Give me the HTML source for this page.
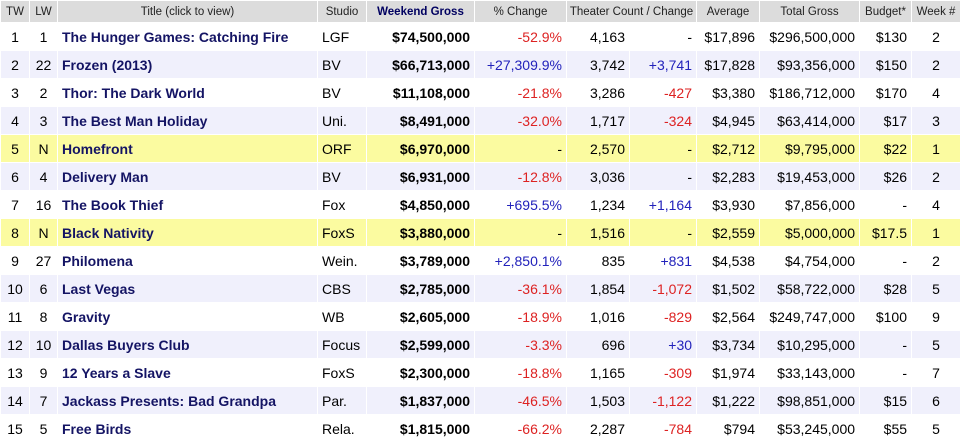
<!DOCTYPE html>
<html><head><meta charset="utf-8"><style>
body{margin:0;background:#fff;width:960px;height:442px;overflow:hidden;font-family:"Liberation Sans",Tahoma,sans-serif}
table{border-collapse:collapse;table-layout:fixed;width:960px}
td{border:1px solid #fff;padding:0 4px;white-space:nowrap;overflow:hidden;font-size:14px;color:#000;height:28px;box-sizing:border-box}
tr.h td{background:#dcdcdc;height:22px;font-size:11.5px;text-align:center;color:#222;padding:0 2px}
tr.h td.wg{font-weight:bold;color:#000060}
tr.a td{background:#fff}
tr.b td{background:#f0f0fc}
tr.y td{background:#fbfba0}
.c{text-align:center}.r{text-align:right}
.t{font-weight:bold;color:#141464;font-size:14px}
.g{font-weight:bold;text-align:right}
.red{color:#dd2222}.blu{color:#2222bb}
</style></head><body>
<table>
<colgroup><col style="width:29px"><col style="width:28px"><col style="width:260px"><col style="width:49px"><col style="width:108px"><col style="width:92px"><col style="width:63px"><col style="width:67px"><col style="width:63px"><col style="width:100px"><col style="width:52px"><col style="width:49px"></colgroup>
<tr class="h"><td>TW</td><td>LW</td><td>Title (click to view)</td><td>Studio</td><td class="wg">Weekend Gross</td><td>% Change</td><td colspan="2">Theater Count / Change</td><td>Average</td><td>Total Gross</td><td>Budget*</td><td>Week #</td></tr>
<tr class="a"><td class="c">1</td><td class="c">1</td><td class="t">The Hunger Games: Catching Fire</td><td>LGF</td><td class="g">$74,500,000</td><td class="r red">-52.9%</td><td class="r">4,163</td><td class="r">-</td><td class="r">$17,896</td><td class="r">$296,500,000</td><td class="r">$130</td><td class="c">2</td></tr>
<tr class="b"><td class="c">2</td><td class="c">22</td><td class="t">Frozen (2013)</td><td>BV</td><td class="g">$66,713,000</td><td class="r blu">+27,309.9%</td><td class="r">3,742</td><td class="r blu">+3,741</td><td class="r">$17,828</td><td class="r">$93,356,000</td><td class="r">$150</td><td class="c">2</td></tr>
<tr class="a"><td class="c">3</td><td class="c">2</td><td class="t">Thor: The Dark World</td><td>BV</td><td class="g">$11,108,000</td><td class="r red">-21.8%</td><td class="r">3,286</td><td class="r red">-427</td><td class="r">$3,380</td><td class="r">$186,712,000</td><td class="r">$170</td><td class="c">4</td></tr>
<tr class="b"><td class="c">4</td><td class="c">3</td><td class="t">The Best Man Holiday</td><td>Uni.</td><td class="g">$8,491,000</td><td class="r red">-32.0%</td><td class="r">1,717</td><td class="r red">-324</td><td class="r">$4,945</td><td class="r">$63,414,000</td><td class="r">$17</td><td class="c">3</td></tr>
<tr class="y"><td class="c">5</td><td class="c">N</td><td class="t">Homefront</td><td>ORF</td><td class="g">$6,970,000</td><td class="r">-</td><td class="r">2,570</td><td class="r">-</td><td class="r">$2,712</td><td class="r">$9,795,000</td><td class="r">$22</td><td class="c">1</td></tr>
<tr class="b"><td class="c">6</td><td class="c">4</td><td class="t">Delivery Man</td><td>BV</td><td class="g">$6,931,000</td><td class="r red">-12.8%</td><td class="r">3,036</td><td class="r">-</td><td class="r">$2,283</td><td class="r">$19,453,000</td><td class="r">$26</td><td class="c">2</td></tr>
<tr class="a"><td class="c">7</td><td class="c">16</td><td class="t">The Book Thief</td><td>Fox</td><td class="g">$4,850,000</td><td class="r blu">+695.5%</td><td class="r">1,234</td><td class="r blu">+1,164</td><td class="r">$3,930</td><td class="r">$7,856,000</td><td class="r">-</td><td class="c">4</td></tr>
<tr class="y"><td class="c">8</td><td class="c">N</td><td class="t">Black Nativity</td><td>FoxS</td><td class="g">$3,880,000</td><td class="r">-</td><td class="r">1,516</td><td class="r">-</td><td class="r">$2,559</td><td class="r">$5,000,000</td><td class="r">$17.5</td><td class="c">1</td></tr>
<tr class="a"><td class="c">9</td><td class="c">27</td><td class="t">Philomena</td><td>Wein.</td><td class="g">$3,789,000</td><td class="r blu">+2,850.1%</td><td class="r">835</td><td class="r blu">+831</td><td class="r">$4,538</td><td class="r">$4,754,000</td><td class="r">-</td><td class="c">2</td></tr>
<tr class="b"><td class="c">10</td><td class="c">6</td><td class="t">Last Vegas</td><td>CBS</td><td class="g">$2,785,000</td><td class="r red">-36.1%</td><td class="r">1,854</td><td class="r red">-1,072</td><td class="r">$1,502</td><td class="r">$58,722,000</td><td class="r">$28</td><td class="c">5</td></tr>
<tr class="a"><td class="c">11</td><td class="c">8</td><td class="t">Gravity</td><td>WB</td><td class="g">$2,605,000</td><td class="r red">-18.9%</td><td class="r">1,016</td><td class="r red">-829</td><td class="r">$2,564</td><td class="r">$249,747,000</td><td class="r">$100</td><td class="c">9</td></tr>
<tr class="b"><td class="c">12</td><td class="c">10</td><td class="t">Dallas Buyers Club</td><td>Focus</td><td class="g">$2,599,000</td><td class="r red">-3.3%</td><td class="r">696</td><td class="r blu">+30</td><td class="r">$3,734</td><td class="r">$10,295,000</td><td class="r">-</td><td class="c">5</td></tr>
<tr class="a"><td class="c">13</td><td class="c">9</td><td class="t">12 Years a Slave</td><td>FoxS</td><td class="g">$2,300,000</td><td class="r red">-18.8%</td><td class="r">1,165</td><td class="r red">-309</td><td class="r">$1,974</td><td class="r">$33,143,000</td><td class="r">-</td><td class="c">7</td></tr>
<tr class="b"><td class="c">14</td><td class="c">7</td><td class="t">Jackass Presents: Bad Grandpa</td><td>Par.</td><td class="g">$1,837,000</td><td class="r red">-46.5%</td><td class="r">1,503</td><td class="r red">-1,122</td><td class="r">$1,222</td><td class="r">$98,851,000</td><td class="r">$15</td><td class="c">6</td></tr>
<tr class="a"><td class="c">15</td><td class="c">5</td><td class="t">Free Birds</td><td>Rela.</td><td class="g">$1,815,000</td><td class="r red">-66.2%</td><td class="r">2,287</td><td class="r red">-784</td><td class="r">$794</td><td class="r">$53,245,000</td><td class="r">$55</td><td class="c">5</td></tr>
</table>
</body></html>
